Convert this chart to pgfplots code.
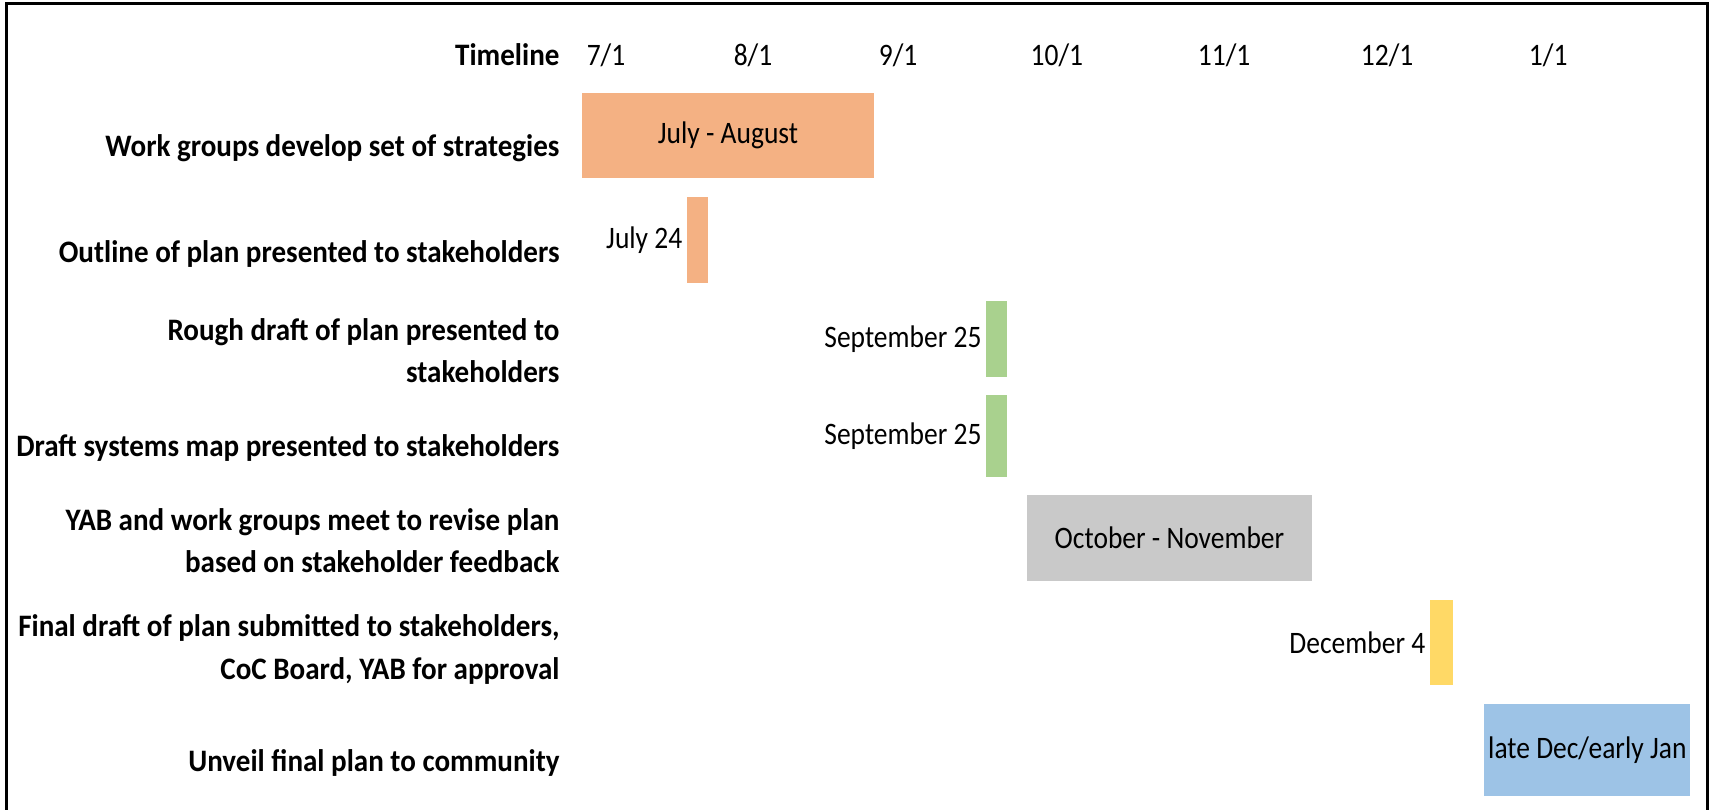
\documentclass[border=0pt]{standalone}
\usepackage{pgfplots}
\pgfplotsset{compat=1.18}
\usepackage{fontspec}
\setmainfont{Carlito}[FakeStretch=0.88, BoldFeatures={FakeStretch=0.93}]
\definecolor{cOrange}{HTML}{F4B183}
\definecolor{cGreen}{HTML}{A9D18E}
\definecolor{cGray}{HTML}{C9C9C9}
\definecolor{cYellow}{HTML}{FFD966}
\definecolor{cBlue}{HTML}{9DC3E6}
\newcommand{\lbl}{\fontsize{12.5}{17}\selectfont}
% row centres (axis units) of the bars
% 1.002 2.023 2.989 3.935 4.930 5.950 7.000
\begin{document}
\begin{tikzpicture}
\useasboundingbox (-232.8pt,-3.1pt) rectangle (451.6pt,320.5pt);
\draw[line width=1.2pt] (-230pt,-12pt) -- (-230pt,318.9pt) -- (450pt,318.9pt) -- (450pt,-12pt);
\begin{axis}[
  at={(0pt,0pt)}, anchor=south west,
  scale only axis, width=443.2pt, height=287pt,
  xmin=0, xmax=235.2, ymin=0.5, ymax=7.5, y dir=reverse,
  xbar stacked,
  axis line style={draw=none}, major tick length=0pt, tick style={draw=none},
  xtick={5.1,36.3,67.1,100.8,136.3,170.9,205.1},
  xticklabels={7/1,8/1,9/1,10/1,11/1,12/1,1/1},
  xticklabel pos=right, xtick pos=right,
  xticklabel style={anchor=center, yshift=11.5pt, font=\lbl},
  ytick={1.130,2.163,3.105,4.058,4.958,6.018,7.124},
  yticklabels={{Work groups develop set of strategies},
    {Outline of plan presented to stakeholders},
    {Rough draft of plan presented to\\stakeholders},
    {Draft systems map presented to stakeholders},
    {YAB and work groups meet to revise plan\\based on stakeholder feedback},
    {Final draft of plan submitted to stakeholders,\\CoC Board, YAB for approval},
    {Unveil final plan to community}},
  yticklabel style={anchor=east, inner sep=0pt, xshift=-8.8pt, align=right, font=\lbl\bfseries},
  clip=false,
]
\addplot[draw=none, fill=none, bar width=0.8] coordinates {(0,1.002) (22.3,2.023) (85.8,2.989) (85.8,3.935) (94.5,4.930) (180,5.950) (191.5,7.000)};
\addplot[draw=none, fill=cOrange, bar width=0.829] coordinates {(62,1.002) (0,2.023) (0,2.989) (0,3.935) (0,4.930) (0,5.950) (0,7.000)};
\addplot[draw=none, fill=cOrange, bar width=0.836] coordinates {(0,1.002) (4.46,2.023) (0,2.989) (0,3.935) (0,4.930) (0,5.950) (0,7.000)};
\addplot[draw=none, fill=cGreen, bar width=0.739] coordinates {(0,1.002) (0,2.023) (4.46,2.989) (0,3.935) (0,4.930) (0,5.950) (0,7.000)};
\addplot[draw=none, fill=cGreen, bar width=0.797] coordinates {(0,1.002) (0,2.023) (0,2.989) (4.46,3.935) (0,4.930) (0,5.950) (0,7.000)};
\addplot[draw=none, fill=cGray, bar width=0.836] coordinates {(0,1.002) (0,2.023) (0,2.989) (0,3.935) (60.5,4.930) (0,5.950) (0,7.000)};
\addplot[draw=none, fill=cYellow, bar width=0.826] coordinates {(0,1.002) (0,2.023) (0,2.989) (0,3.935) (0,4.930) (4.9,5.950) (0,7.000)};
\addplot[draw=none, fill=cBlue, bar width=0.898] coordinates {(0,1.002) (0,2.023) (0,2.989) (0,3.935) (0,4.930) (0,5.950) (43.7,7.000)};
\coordinate (L1) at (axis cs:31,1.002);
\coordinate (L2) at (axis cs:22.3,2.023);
\coordinate (L3) at (axis cs:85.8,2.989);
\coordinate (L4) at (axis cs:85.8,3.935);
\coordinate (L5) at (axis cs:124.7,4.930);
\coordinate (L6) at (axis cs:180,5.950);
\coordinate (L7) at (axis cs:213.4,7.000);
\end{axis}
\node[font=\lbl] at (L1) {July - August};
\node[font=\lbl, anchor=east, inner sep=1.7pt] at (L2) {July 24};
\node[font=\lbl, anchor=east, inner sep=1.7pt] at (L3) {September 25};
\node[font=\lbl, anchor=east, inner sep=1.7pt] at (L4) {September 25};
\node[font=\lbl] at (L5) {October - November};
\node[font=\lbl, anchor=east, inner sep=1.7pt] at (L6) {December 4};
\node[font=\lbl] at (L7) {late Dec/early Jan};
\node[anchor=east, inner sep=0pt, font=\lbl\bfseries] at (-8.8pt,298.5pt) {Timeline};
\end{tikzpicture}
\end{document}
